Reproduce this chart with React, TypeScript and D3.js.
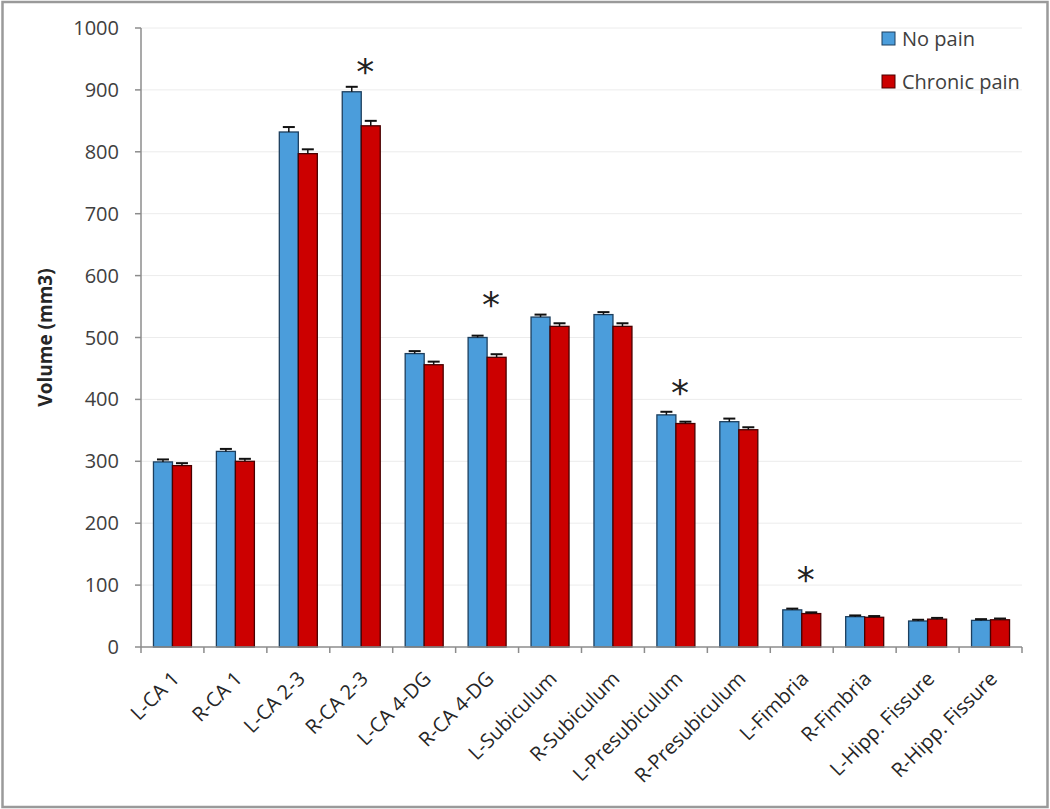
import React from "react";
import * as d3 from "d3";

const categories = [
  "L-CA 1", "R-CA 1", "L-CA 2-3", "R-CA 2-3", "L-CA 4-DG", "R-CA 4-DG",
  "L-Subiculum", "R-Subiculum", "L-Presubiculum", "R-Presubiculum",
  "L-Fimbria", "R-Fimbria", "L-Hipp. Fissure", "R-Hipp. Fissure",
];
const noPain = [299, 316, 832, 897, 474, 500, 533, 537, 375, 364, 60, 49, 42, 43];
const chronicPain = [293, 300, 797, 842, 456, 468, 518, 518, 361, 351, 54, 48, 45, 44];
const noPainErr = [4, 4, 8, 8, 4, 3, 4, 4, 5, 5, 2, 2, 2, 2];
const chronicPainErr = [4, 4, 7, 8, 5, 5, 5, 5, 3, 4, 2, 2, 2, 2];
const sigCategories = ["R-CA 2-3", "R-CA 4-DG", "L-Presubiculum", "L-Fimbria"];
const sigLevels = [945, 569, 426, 124];
const yTicks = [0, 100, 200, 300, 400, 500, 600, 700, 800, 900, 1000];
const seriesNames = ["No pain", "Chronic pain"];

const W = 1050;
const H = 809;
const m = { left: 141, right: 1022, top: 28, bottom: 647 };
const BLUE = "#4b9ddb";
const RED = "#cc0000";
const FONT = "'Open Sans', 'Noto Sans', sans-serif";

export default function App() {
  const x = d3.scaleBand<string>().domain(categories).range([m.left, m.right]).paddingInner(0).paddingOuter(0);
  const y = d3.scaleLinear().domain([0, 1000]).range([m.bottom, m.top]);
  const bw = 19;
  const series = [
    { vals: noPain, errs: noPainErr, fill: BLUE, stroke: "#1d3f5e", off: -bw },
    { vals: chronicPain, errs: chronicPainErr, fill: RED, stroke: "#4a0000", off: 0 },
  ];
  const center = (c: string) => (x(c) as number) + x.bandwidth() / 2;

  return (
    <svg width={W} height={H} style={{ position: "absolute", left: 0, top: 0, display: "block" }}>
      <rect x={0} y={0} width={W} height={H} fill="#fff" />
      <rect x={2.5} y={2} width={W - 5} height={H - 4} fill="none" stroke="#9a9a9a" strokeWidth={2.5} />
      {yTicks.filter((t) => t > 0).map((t) => (
        <line key={"g" + t} x1={m.left} x2={m.right} y1={y(t)} y2={y(t)} stroke="#ececec" strokeWidth={1} />
      ))}
      {yTicks.map((t) => (
        <g key={"t" + t}>
          <line x1={m.left - 6} x2={m.left} y1={y(t)} y2={y(t)} stroke="#8c8c8c" strokeWidth={1.5} />
          <text x={119} y={y(t)} dy="0.35em" textAnchor="end" fontFamily={FONT} fontSize={20} fill="#404040">
            {t}
          </text>
        </g>
      ))}
      {series.map((s, si) =>
        categories.map((c, i) => {
          const cx = center(c) + s.off;
          return (
            <g key={si + "-" + i}>
              <rect x={cx} y={y(s.vals[i])} width={bw} height={m.bottom - y(s.vals[i])} fill={s.fill} stroke={s.stroke} strokeWidth={1.3} />
              <line x1={cx + bw / 2} x2={cx + bw / 2} y1={y(s.vals[i])} y2={y(s.vals[i] + s.errs[i])} stroke="#111" strokeWidth={1.5} />
              <line x1={cx + bw / 2 - 6} x2={cx + bw / 2 + 6} y1={y(s.vals[i] + s.errs[i])} y2={y(s.vals[i] + s.errs[i])} stroke="#111" strokeWidth={2} />
            </g>
          );
        })
      )}
      <line x1={m.left} x2={m.left} y1={m.top} y2={m.bottom} stroke="#8c8c8c" strokeWidth={1.5} />
      <line x1={m.left} x2={m.right} y1={m.bottom} y2={m.bottom} stroke="#8c8c8c" strokeWidth={1.5} />
      {categories.map((c, i) => (
        <line key={"xt" + i} x1={x(c) as number} x2={x(c) as number} y1={m.bottom} y2={m.bottom + 6} stroke="#8c8c8c" strokeWidth={1.5} />
      ))}
      <line x1={m.right} x2={m.right} y1={m.bottom} y2={m.bottom + 6} stroke="#8c8c8c" strokeWidth={1.5} />
      {categories.map((c, i) => (
        <text
          key={"xl" + i}
          transform={`translate(${center(c) + 8},${m.bottom + 33}) rotate(-45)`}
          textAnchor="end"
          fontFamily={FONT}
          fontSize={20}
          fill="#262626"
        >
          {c}
        </text>
      ))}
      {sigCategories.map((c, i) => (
        <text key={"s" + i} x={center(c) + 4} y={y(sigLevels[i]) + 22} textAnchor="middle" fontFamily="'DejaVu Sans', sans-serif" fontSize={36} fill="#222">
          *
        </text>
      ))}
      <text transform={`translate(52,${(m.top + m.bottom) / 2}) rotate(-90)`} textAnchor="middle" fontFamily={FONT} fontWeight="bold" fontSize={19} fill="#262626">
        Volume (mm3)
      </text>
      {seriesNames.map((n, i) => (
        <g key={"lg" + i} transform={`translate(882,${32 + i * 43})`}>
          <rect x={0} y={0} width={13} height={13} fill={series[i].fill} stroke={series[i].stroke} strokeWidth={1} />
          <text x={20} y={6.5} dy="0.35em" fontFamily={FONT} fontSize={20} fill="#404040">
            {n}
          </text>
        </g>
      ))}
    </svg>
  );
}
